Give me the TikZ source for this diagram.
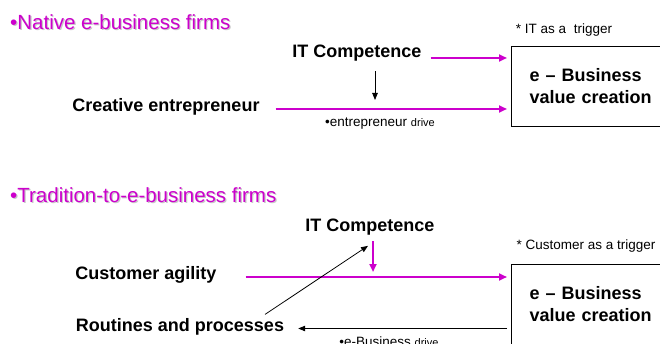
\documentclass[tikz,border=0pt]{standalone}
\usepackage{fontspec}
\setmainfont{Liberation Sans}
\usetikzlibrary{arrows.meta}
\definecolor{pinkline}{RGB}{204,0,204}
\definecolor{shade}{RGB}{200,200,200}

\begin{document}
\begin{tikzpicture}[x=1pt,y=-1pt,
  lbl/.style={font=\fontsize{18}{21}\selectfont\bfseries, inner sep=1pt},
  head/.style={font=\fontsize{20.5}{24}\selectfont, text=pinkline, anchor=west, inner sep=0pt},
  note/.style={font=\fontsize{13.5}{16}\selectfont, inner sep=0pt},
  valuebox/.style={draw, line width=1pt, anchor=north west, minimum height=80pt,
    text width=150pt, inner xsep=18pt, align=left, font=\fontsize{18}{22}\selectfont\bfseries},
  pinkarrow/.style={draw=pinkline, line width=2pt, -{Triangle[length=8pt,width=7pt]}},
  blackarrow/.style={draw=black, line width=0.8pt, -{Triangle[length=7pt,width=5.5pt]}}]

\clip (0,0) rectangle (660,344);

% native firms
\node[head, text=shade] (titleAs) at (11.2,23.2) {•Native e-business firms};
\node[head] (titleA) at (10,22) {•Native e-business firms};

\node[lbl] (itA) at (357,53) {IT Competence};
\node[lbl] (creA) at (166,107) {Creative entrepreneur};
\node[note] (trgA) at (564,30) {* IT as a\ \ trigger};
\node[valuebox] (boxA) at (511,46) {e – Business\\value creation};
\node[note] (drvA) at (380,124) {•entrepreneur {\fontsize{11}{13}\selectfont drive}};

\draw[pinkarrow, shorten >=4pt] ([xshift=8pt,yshift=-5pt]itA.east) coordinate (itAout) -- (itAout -| boxA.west);
\draw[pinkarrow, shorten >=4pt] ([xshift=15pt,yshift=-2pt]creA.east) coordinate (creAout) -- (creAout -| boxA.west);
\draw[blackarrow, shorten <=9pt, shorten >=7pt] ([xshift=18pt]itA.south) -- ([xshift=18pt]itA.south |- creA.east);

% tradition-to-e-business firms
\node[head, text=shade] (titleBs) at (11.2,196.2) {•Tradition-to-e-business firms};
\node[head] (titleB) at (10,195) {•Tradition-to-e-business firms};

\node[lbl] (itB) at (370,227) {IT Competence};
\node[lbl] (cusB) at (146,275) {Customer agility};
\node[lbl] (rouB) at (180,327) {Routines and processes};
\node[note] (trgB) at (586,246) {* Customer as a trigger};
\node[valuebox] (boxB) at (511,264) {e – Business\\value creation};
\node[note] (drvB) at (389,342) {•e-Business {\fontsize{11}{13}\selectfont drive}};

\draw[pinkarrow, shorten <=5pt, shorten >=3pt] ([xshift=3pt]itB.south) -- ([xshift=3pt]itB.south |- cusB.east);
\draw[pinkarrow, shorten >=4pt] ([xshift=28pt,yshift=-2pt]cusB.east) coordinate (cusBout) -- (cusBout -| boxB.west);
\draw[blackarrow, shorten <=4pt, shorten >=13pt] ([yshift=-1.5pt]rouB.east -| boxB.west) -- ([yshift=-1.5pt]rouB.east);
\draw[blackarrow] ([xshift=85pt,yshift=3pt]rouB.north) -- ([xshift=-2pt,yshift=-9.5pt]itB.south);

\end{tikzpicture}
\end{document}
